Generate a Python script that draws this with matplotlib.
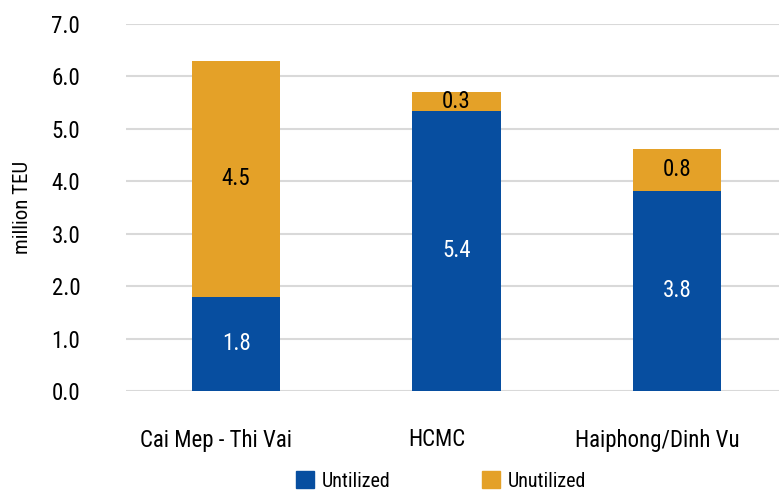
import matplotlib.pyplot as plt
import matplotlib.transforms as mtransforms
from matplotlib.patches import Patch

plt.rcParams['font.family'] = ['Roboto Condensed', 'DejaVu Sans']
plt.rcParams['font.stretch'] = 'condensed'

ports = ['Cai Mep - Thi Vai', 'HCMC', 'Haiphong/Dinh Vu']
utilized = [1.8, 5.35, 3.82]
unutilized = [4.5, 0.35, 0.8]
utilized_labels = ['1.8', '5.4', '3.8']
unutilized_labels = ['4.5', '0.3', '0.8']

blue = '#074ea0'
orange = '#e4a128'

fig = plt.figure(figsize=(7.79, 4.91), dpi=100)
ax = fig.add_axes([126 / 779, 1 - 391 / 491, (787 - 126) / 779, (391 - 24) / 491])

x = range(len(ports))
ax.bar(x, utilized, width=0.4, color=blue, zorder=3)
ax.bar(x, unutilized, width=0.4, bottom=utilized, color=orange, zorder=3)

# 막대 안의 숫자
for i in x:
    ax.text(i, utilized[i] / 2, utilized_labels[i], ha='center', va='center',
            color='white', fontsize=16.5, zorder=4)
    ax.text(i, utilized[i] + unutilized[i] / 2, unutilized_labels[i], ha='center',
            va='center', color='black', fontsize=16.5, zorder=4)

ax.set_xlim(-0.5, 2.5)
ax.set_ylim(0, 7)
ax.set_yticks([i * 1.0 for i in range(8)])
ax.set_yticklabels([f'{i:.1f}' for i in range(8)])
ax.set_xticks(list(x))
ax.set_xticklabels(ports)
ax.tick_params(axis='both', length=0, labelsize=16.5)
ax.tick_params(axis='x', pad=27)
ax.tick_params(axis='y', pad=33)
# x 라벨이 막대보다 약간 왼쪽에 있음
shift = mtransforms.ScaledTranslation(-0.2, 0, fig.dpi_scale_trans)
for lbl in ax.get_xticklabels():
    lbl.set_transform(lbl.get_transform() + shift)
ax.yaxis.grid(True, color='#d9d9d9', linewidth=1.5, zorder=0)
for s in ax.spines.values():
    s.set_visible(False)
ax.set_ylabel('million TEU', fontsize=15)
ax.yaxis.set_label_coords(-0.142, 0.5)

handles = [Patch(color=blue, label='Untilized'), Patch(color=orange, label='Unutilized')]
fig.legend(handles=handles, loc='center left', bbox_to_anchor=(296 / 779, 1 - 481 / 491),
           ncol=2, frameon=False, fontsize=14.5, handlelength=0.9, handleheight=0.9,
           columnspacing=4.5, handletextpad=0.4, borderpad=0, borderaxespad=0)

fig.savefig('out.png', dpi=100)
